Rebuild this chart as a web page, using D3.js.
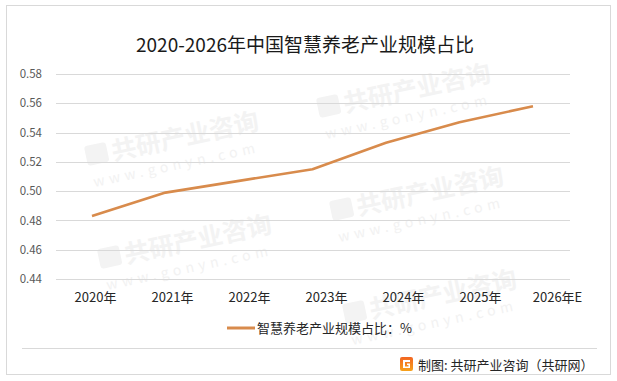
<!DOCTYPE html>
<html>
<head>
<meta charset="utf-8">
<script src="https://cdn.jsdelivr.net/npm/d3@7"></script>
<style>
  html, body { margin: 0; padding: 0; background: #fff; }
  svg { display: block; }
  text { font-family: "Noto Sans CJK SC", "Noto Sans", sans-serif; }
</style>
</head>
<body>
<svg id="chart" width="617" height="381"></svg>
<script>
const years = ["2020年", "2021年", "2022年", "2023年", "2024年", "2025年", "2026年E"];
const shareValues = [0.483, 0.499, 0.507, 0.515, 0.533, 0.547, 0.558];
const yTicks = [0.44, 0.46, 0.48, 0.50, 0.52, 0.54, 0.56, 0.58];
const titleText = "2020-2026年中国智慧养老产业规模占比";
const seriesName = "智慧养老产业规模占比：%";
const sourceText = "制图: 共研产业咨询（共研网）";

const svg = d3.select("#chart");
const lineColor = "#D88B4C";

// background
svg.append("rect").attr("x", 0).attr("y", 0).attr("width", 617).attr("height", 381).attr("fill", "#fff");

// watermarks (only those that fit fully inside the picture)
const wm = svg.append("g").attr("class", "watermarks");
for (let i = -1; i <= 2; i++) {
  for (let j = -1; j <= 3; j++) {
    const bx = 75 + i * 232 + j * 13;
    const by = 63 - i * 48 + j * 103;
    const g = wm.append("g").attr("transform", `translate(${bx},${by}) rotate(-12)`);
    g.append("rect").attr("x", 0).attr("y", -20).attr("width", 22).attr("height", 20).attr("rx", 3)
      .attr("fill", "#f3f3f3");
    g.append("text").attr("x", 26).attr("y", 0).attr("font-size", 25).attr("font-weight", "bold")
      .attr("fill", "#f3f3f3").text("共研产业咨询");
    g.append("text").attr("x", 2).attr("y", 22).attr("font-size", 14).attr("letter-spacing", 4.6)
      .attr("fill", "#f2f2f2").text("www.gonyn.com");
    const r = g.node().getBoundingClientRect();
    if (r.left < 1 || r.top < 1 || r.right > 616 || r.bottom > 380) g.remove();
  }
}

// outer border
svg.append("rect").attr("x", 6.5).attr("y", 5.5).attr("width", 604).attr("height", 369)
  .attr("fill", "none").attr("stroke", "#d9d9d9").attr("stroke-width", 1);

// title
svg.append("text").attr("x", 305).attr("y", 52).attr("text-anchor", "middle")
  .attr("font-size", 19).attr("fill", "#1a1a1a").text(titleText);

// scales
const y = d3.scaleLinear().domain([0.44, 0.58]).range([279, 74]);
const x = d3.scalePoint().domain(years).range([92, 533]);
const xLabel = d3.scalePoint().domain(years).range([95, 557]);

// gridlines
svg.append("g").selectAll("line").data(yTicks).join("line")
  .attr("x1", 56).attr("x2", 570)
  .attr("y1", d => Math.round(y(d)) + 0.5).attr("y2", d => Math.round(y(d)) + 0.5)
  .attr("stroke", "#d9d9d9").attr("stroke-width", 1);

// y axis labels
const yAxis = d3.axisLeft(y).tickValues(yTicks).tickFormat(d3.format(".2f")).tickSize(0).tickPadding(0);
const gy = svg.append("g").attr("transform", "translate(42,0)").call(yAxis);
gy.select(".domain").remove();
gy.selectAll("text").attr("font-size", 11.5).attr("fill", "#595959")
  .style("font-family", '"Noto Sans CJK SC", sans-serif');

// x axis labels
const xAxis = d3.axisBottom(xLabel).tickSize(0).tickPadding(0);
const gx = svg.append("g").attr("transform", "translate(0,293)").call(xAxis);
gx.select(".domain").remove();
gx.selectAll("text").attr("font-size", 13).attr("fill", "#262626")
  .style("font-family", '"Noto Sans CJK SC", sans-serif');

// line
const line = d3.line().x((d, i) => x(years[i])).y(d => y(d));
svg.append("path").datum(shareValues).attr("d", line)
  .attr("fill", "none").attr("stroke", lineColor).attr("stroke-width", 2.6)
  .attr("stroke-linejoin", "round").attr("stroke-linecap", "butt");

// legend
svg.append("line").attr("x1", 227).attr("x2", 255).attr("y1", 328).attr("y2", 328)
  .attr("stroke", lineColor).attr("stroke-width", 3);
svg.append("text").attr("x", 257).attr("y", 333).attr("font-size", 13).attr("fill", "#262626").text(seriesName);

// footer separator
svg.append("line").attr("x1", 22).attr("x2", 597).attr("y1", 348.5).attr("y2", 348.5)
  .attr("stroke", "#d9d9d9").attr("stroke-width", 1);

// logo
const defs = svg.append("defs");
const grad = defs.append("linearGradient").attr("id", "logoGrad").attr("x1", 0).attr("y1", 0).attr("x2", 0).attr("y2", 1);
grad.append("stop").attr("offset", "0%").attr("stop-color", "#f26522");
grad.append("stop").attr("offset", "100%").attr("stop-color", "#f7a21b");
const logo = svg.append("g").attr("transform", "translate(400,357)");
logo.append("rect").attr("width", 13).attr("height", 14).attr("rx", 2).attr("fill", "url(#logoGrad)");
logo.append("path").attr("d", "M3,3 H10 V5 H5 V9.5 H8.5 V8 H7 V6.5 H10 V11 H3 Z").attr("fill", "#fff");

svg.append("text").attr("x", 418).attr("y", 370).attr("font-size", 13).attr("fill", "#262626").text(sourceText);
</script>
</body>
</html>
